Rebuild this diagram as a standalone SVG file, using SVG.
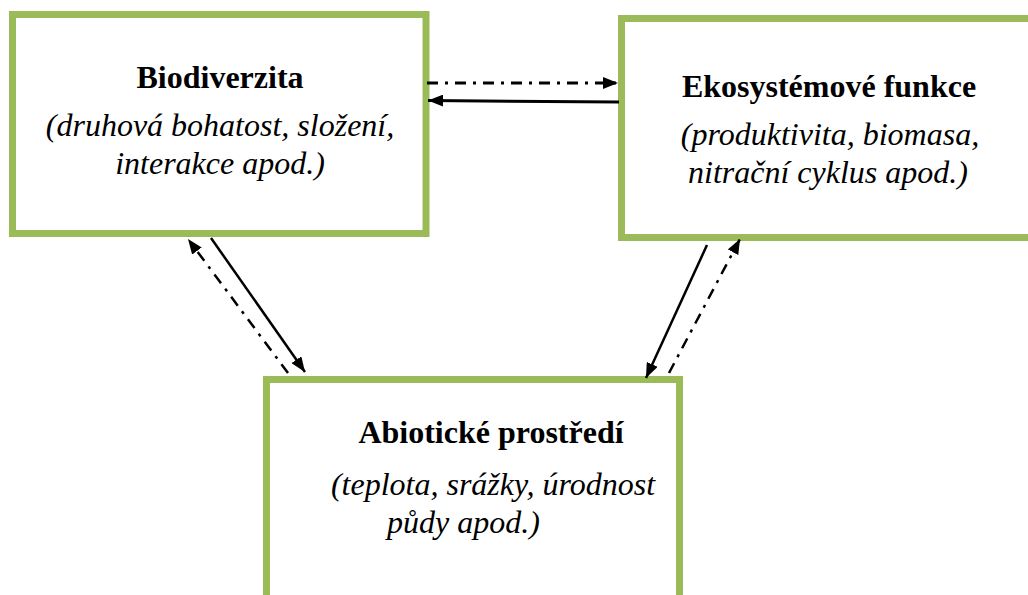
<svg xmlns="http://www.w3.org/2000/svg" width="1028" height="595" viewBox="0 0 1028 595">
<defs>
<style>
.box{fill:#fff;stroke:#9BBB59;stroke-width:7}
.t{font-family:"Liberation Serif","Times New Roman",serif;font-size:32px;fill:#000;text-anchor:middle}
.b{font-weight:bold}
.i{font-style:italic}
.solid{stroke:#000;stroke-width:2.5;fill:none}
.dd{stroke:#000;stroke-width:2.5;fill:none;stroke-dasharray:11 7 3 7}
</style>
<marker id="ah" viewBox="0 0 15 12" refX="15" refY="6" markerWidth="15" markerHeight="12" markerUnits="userSpaceOnUse" orient="auto">
<path d="M0,0 L15,6 L0,12 z" fill="#000"/>
</marker>
</defs>
<rect width="1028" height="595" fill="#fff"/>
<g id="node-biodiverzita">
<rect class="box" x="12.5" y="14.5" width="413.5" height="219"/>
<text class="t b" x="220" y="88">Biodiverzita</text>
<text class="t i" x="220" y="136">(druhová bohatost, složení,</text>
<text class="t i" x="220" y="174">interakce apod.)</text>
</g>
<g id="node-ekosystemove">
<rect class="box" x="621.5" y="18.5" width="420" height="219"/>
<text class="t b" x="829" y="97">Ekosystémové funkce</text>
<text class="t i" x="830" y="145">(produktivita, biomasa,</text>
<text class="t i" x="828" y="183">nitrační cyklus apod.)</text>
</g>
<g id="node-abioticke">
<rect class="box" x="266.5" y="379.5" width="413" height="250"/>
<text class="t b" x="491" y="443">Abiotické prostředí</text>
<text class="t i" x="493" y="495">(teplota, srážky, úrodnost</text>
<text class="t i" x="387" y="533" style="text-anchor:start">půdy apod.)</text>
</g>
<g id="connectors">
<line class="dd" x1="427" y1="83" x2="618" y2="83" marker-end="url(#ah)" style="stroke-width:3"/>
<line class="solid" x1="619" y1="102" x2="428" y2="100.5" marker-end="url(#ah)" style="stroke-width:3"/>
<line class="solid" x1="211" y1="238" x2="305" y2="372" marker-end="url(#ah)"/>
<line class="dd" x1="288" y1="373" x2="188" y2="239" marker-end="url(#ah)"/>
<line class="solid" x1="707" y1="245" x2="646" y2="378" marker-end="url(#ah)"/>
<line class="dd" x1="669" y1="373" x2="740" y2="239" marker-end="url(#ah)"/>
</g>
</svg>
